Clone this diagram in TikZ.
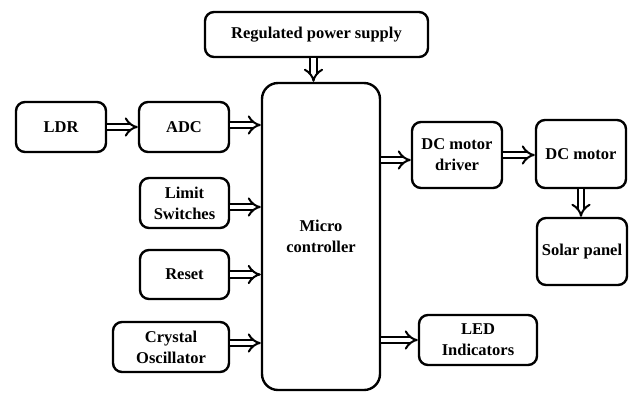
\documentclass[tikz,border=0pt]{standalone}
\usepackage{fontspec}
\setmainfont{Liberation Serif}
\usetikzlibrary{arrows.meta}
\begin{document}
\begin{tikzpicture}[x=1pt,y=-1pt,
  blk/.style={draw, line width=2.4pt, rounded corners=9pt, align=center,
    font=\fontsize{16.5}{21}\selectfont\bfseries, inner sep=0pt},
  arr/.style={double, double distance=4.5pt, line width=2pt, -{Implies[scale=1.25]}}]
\useasboundingbox (0,0) rectangle (631,392);
\node[blk, minimum width=90pt, minimum height=50pt] (ldr) at (61,127) {LDR};
\node[blk, minimum width=90pt, minimum height=50pt] (adc) at (184,127) {ADC};
\node[blk, minimum width=89pt, minimum height=50pt] (lim) at (184.5,203) {Limit\\Switches};
\node[blk, minimum width=89pt, minimum height=49pt] (rst) at (184.5,274.5) {Reset};
\node[blk, minimum width=116pt, minimum height=50pt] (osc) at (171,347) {Crystal\\Oscillator};
\node[blk, minimum width=118pt, minimum height=307pt, rounded corners=16pt] (mc) at (321,236.5) {Micro\\controller};
\node[blk, minimum width=223pt, minimum height=45pt] (rps) at (316.5,34.5) {Regulated power supply};
\node[blk, minimum width=90pt, minimum height=66pt] (drv) at (457,155) {DC motor\\driver};
\node[blk, minimum width=90pt, minimum height=68pt] (mot) at (581,154) {DC motor};
\node[blk, minimum width=90pt, minimum height=67pt] (sol) at (582,251.5) {Solar panel};
\node[blk, minimum width=118pt, minimum height=50pt] (led) at (478,340) {LED\\Indicators};
\draw[arr] (ldr.east) -- (adc.west);
\draw[arr] ([yshift=2pt]adc.east) -- ([yshift=2pt]adc.east -| mc.west);
\draw[arr] ([yshift=-4pt]lim.east) -- ([yshift=-4pt]lim.east -| mc.west);
\draw[arr] (rst.east) -- (rst.east -| mc.west);
\draw[arr] ([yshift=4pt]osc.east) -- ([yshift=4pt]osc.east -| mc.west);
\draw[arr] ([xshift=-3pt]rps.south) -- ([xshift=-3pt]rps.south |- mc.north);
\draw[arr] ([yshift=-5pt]drv.west -| mc.east) -- ([yshift=-5pt]drv.west);
\draw[arr] (drv.east) -- (drv.east -| mot.west);
\draw[arr] (mot.south) -- (mot.south |- sol.north);
\draw[arr] (led.west -| mc.east) -- (led.west);
\end{tikzpicture}
\end{document}
